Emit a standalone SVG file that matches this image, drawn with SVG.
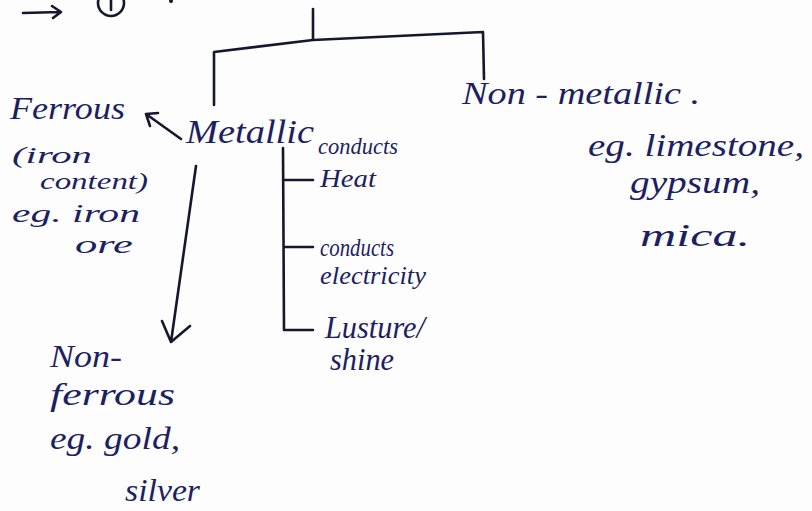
<svg xmlns="http://www.w3.org/2000/svg" width="812" height="511" viewBox="0 0 812 511">
  <defs>
    <style>
      .ink { fill: #1d1f63; font-family: "Liberation Serif", "DejaVu Serif", serif; font-style: italic; }
      .big { font-size: 34px; }
      .mid { font-size: 31px; }
      .sm { font-size: 26px; }
      .xs { font-size: 23px; }
      .pen { stroke: #16162e; stroke-width: 2.6; fill: none; stroke-linecap: round; stroke-linejoin: round; }
    </style>
  </defs>
  <rect width="812" height="511" fill="#fdfdfd"/>

  <!-- heading marker, cut at the top edge -->
  <g id="heading">
    <path class="pen" d="M23 13 L60 12 M52 6 L61 12 L53 18"/>
    <circle class="pen" cx="111" cy="3" r="13"/>
    <path class="pen" d="M111 -4 L111 10"/>
    <circle cx="171" cy="1" r="2" fill="#16162e"/>
  </g>

  <!-- connectors -->
  <g id="connectors">
    <path class="pen" d="M313 9 L313 39"/>
    <path class="pen" d="M214 105 L214 52 L313 40 L483 32 L484 79"/>
    <!-- Metallic to Ferrous -->
    <path class="pen" d="M181 139 L146 114 M146 114 L150 126 M146 114 L158 113"/>
    <!-- Metallic down to Non-ferrous -->
    <path class="pen" d="M196 166 L171 342 M162 321 L171 342 L190 326"/>
    <!-- properties bracket -->
    <path class="pen" d="M283 148 L284 330 L313 330 M283 180 L313 180 M284 247 L313 247"/>
  </g>

  <g id="metallic">
    <text class="ink big" x="186" y="143" textLength="128" lengthAdjust="spacingAndGlyphs">Metallic</text>
  </g>

  <g id="ferrous">
    <text class="ink mid" x="10" y="119" textLength="115" lengthAdjust="spacingAndGlyphs">Ferrous</text>
    <text class="ink xs" x="12" y="163" textLength="80" lengthAdjust="spacingAndGlyphs">(iron</text>
    <text class="ink xs" x="40" y="189" textLength="108" lengthAdjust="spacingAndGlyphs">content)</text>
    <text class="ink sm" x="12" y="222" textLength="128" lengthAdjust="spacingAndGlyphs">eg. iron</text>
    <text class="ink sm" x="75" y="253" textLength="58" lengthAdjust="spacingAndGlyphs">ore</text>
  </g>

  <g id="heat">
    <text class="ink xs" x="318" y="154" textLength="80" lengthAdjust="spacingAndGlyphs">conducts</text>
    <text class="ink sm" x="320" y="187" textLength="56" lengthAdjust="spacingAndGlyphs">Heat</text>
  </g>

  <g id="electricity">
    <text class="ink sm" x="320" y="256" textLength="74" lengthAdjust="spacingAndGlyphs">conducts</text>
    <text class="ink sm" x="320" y="284" textLength="106" lengthAdjust="spacingAndGlyphs">electricity</text>
  </g>

  <g id="lustre">
    <text class="ink mid" x="325" y="338" textLength="100" lengthAdjust="spacingAndGlyphs">Lusture/</text>
    <text class="ink mid" x="330" y="370" textLength="64" lengthAdjust="spacingAndGlyphs">shine</text>
  </g>

  <g id="non-metallic">
    <text class="ink mid" x="462" y="104" textLength="238" lengthAdjust="spacingAndGlyphs">Non - metallic .</text>
    <text class="ink mid" x="588" y="156" textLength="216" lengthAdjust="spacingAndGlyphs">eg. limestone,</text>
    <text class="ink mid" x="630" y="193" textLength="130" lengthAdjust="spacingAndGlyphs">gypsum,</text>
    <text class="ink mid" x="640" y="246" textLength="110" lengthAdjust="spacingAndGlyphs">mica.</text>
  </g>

  <g id="non-ferrous">
    <text class="ink mid" x="50" y="367" textLength="72" lengthAdjust="spacingAndGlyphs">Non-</text>
    <text class="ink mid" x="50" y="405" textLength="125" lengthAdjust="spacingAndGlyphs">ferrous</text>
    <text class="ink mid" x="50" y="449" textLength="130" lengthAdjust="spacingAndGlyphs">eg. gold,</text>
    <text class="ink mid" x="125" y="501" textLength="75" lengthAdjust="spacingAndGlyphs">silver</text>
  </g>
</svg>
